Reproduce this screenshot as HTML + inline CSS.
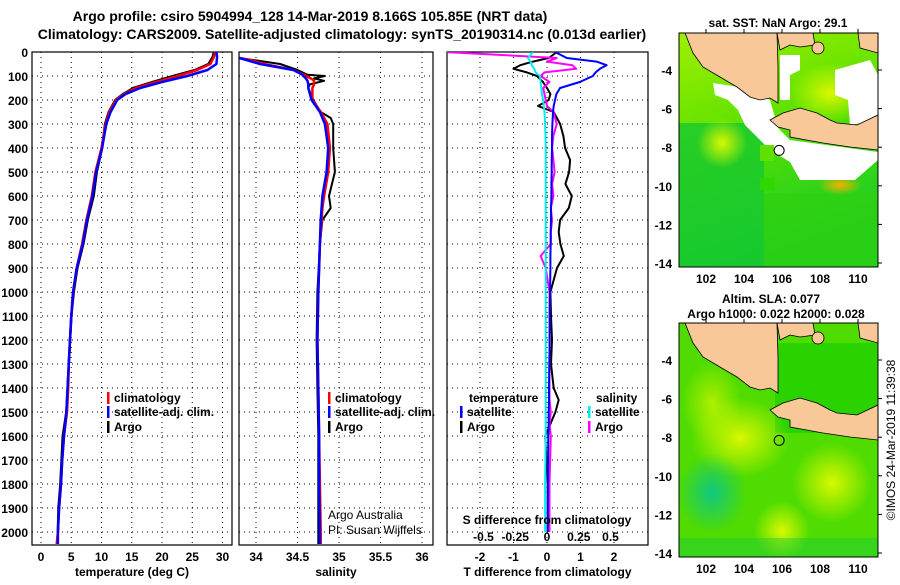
<!DOCTYPE html>
<html><head><meta charset="utf-8"><style>
body{margin:0;background:#fff}
svg text{font-family:"Liberation Sans",sans-serif}
</style></head><body>
<svg id="c" width="900" height="580" viewBox="0 0 900 580" xmlns="http://www.w3.org/2000/svg">
<defs>
<linearGradient id="sstg" x1="0" y1="0" x2="0.3" y2="1"><stop offset="0" stop-color="#a0f000"/><stop offset="0.5" stop-color="#58e000"/><stop offset="1" stop-color="#18cc28"/></linearGradient>
<radialGradient id="yb"><stop offset="0" stop-color="#d8f800"/><stop offset="1" stop-color="#d8f800" stop-opacity="0"/></radialGradient>
<radialGradient id="tb"><stop offset="0" stop-color="#10c880"/><stop offset="1" stop-color="#10c880" stop-opacity="0"/></radialGradient>
<radialGradient id="ob"><stop offset="0" stop-color="#f8b000"/><stop offset="1" stop-color="#f8b000" stop-opacity="0"/></radialGradient>
<clipPath id="m1"><rect x="679" y="33" width="199" height="234"/></clipPath>
<clipPath id="m2"><rect x="679" y="323" width="199" height="234"/></clipPath>
<clipPath id="p3"><rect x="447" y="52" width="201" height="493"/></clipPath>
</defs>
<text x="310" y="21" text-anchor="middle" font-size="14" font-weight="bold">Argo profile: csiro 5904994_128 14-Mar-2019 8.166S 105.85E (NRT data)</text>
<text x="342" y="39" text-anchor="middle" font-size="14" font-weight="bold">Climatology: CARS2009. Satellite-adjusted climatology: synTS_20190314.nc (0.013d earlier)</text>
<g id="g"></g>
</svg>
<script>
const depthTicks=[0,100,200,300,400,500,600,700,800,900,1000,1100,1200,1300,1400,1500,1600,1700,1800,1900,2000];
const tempTicks=[0,5,10,15,20,25,30];
const salTicks=[34,34.5,35,35.5,36];
const tdiffTicks=[-2,-1,0,1,2];
const sdiffTicks=[-0.5,-0.25,0,0.25,0.5];
const sdiffTickLabels=["-0.5","-0.25","0","0.25","0.5"];
const tDepth=[0,20,50,75,100,125,150,175,200,250,300,400,500,600,700,800,900,1000,1100,1200,1300,1400,1500,1600,1700,1800,1900,2000,2050];
const tArgo=[28.6,28.4,27.7,25.5,21.9,18.5,15.3,13.6,12.3,11.2,10.6,10.1,9.2,8.7,7.7,7.0,6.0,5.4,5.0,4.8,4.6,4.4,4.2,3.6,3.4,3.2,2.9,2.8,2.7];
const tClim=[28.8,28.6,28.0,25.8,22.6,19.0,15.7,13.8,12.4,11.3,10.7,10.0,9.0,8.4,7.5,6.8,5.9,5.3,5.0,4.8,4.6,4.5,4.3,3.8,3.5,3.3,3.0,2.8,2.6];
const tSat=[29.0,29.1,29.0,27.5,24.2,20.0,16.4,14.0,12.6,11.5,10.8,10.1,9.1,8.5,7.6,6.9,5.9,5.3,5.0,4.8,4.6,4.4,4.2,3.8,3.5,3.3,3.0,2.8,2.8];
const sDepth=[25,35,50,75,95,100,110,120,135,150,200,250,275,300,400,500,600,650,700,800,1000,1200,1400,1600,1800,2000,2050];
const sArgo=[33.8,34.0,34.29,34.5,34.62,34.83,34.7,34.82,34.65,34.63,34.69,34.78,34.9,34.93,34.93,34.95,34.88,34.9,34.8,34.77,34.74,34.73,34.74,34.75,34.75,34.75,34.75];
const sClim=[33.8,33.95,34.1,34.45,34.58,34.6,34.66,34.7,34.7,34.68,34.68,34.78,34.82,34.86,34.89,34.87,34.82,34.8,34.79,34.77,34.75,34.74,34.75,34.76,34.77,34.78,34.78];
const sSat=[33.8,33.9,34.05,34.45,34.56,34.57,34.6,34.62,34.63,34.63,34.67,34.77,34.8,34.83,34.87,34.85,34.8,34.79,34.78,34.77,34.75,34.74,34.75,34.76,34.76,34.77,34.77];
const dDepth=[0,25,40,55,70,85,100,125,150,175,200,225,250,300,350,400,450,500,550,600,650,700,750,800,850,900,1000,1100,1200,1300,1400,1450,1500,1550,1600,1800,2000];
const dTSat=[0.24,0.59,1.48,1.78,1.58,1.45,1.37,0.98,0.39,0.28,0.24,0.2,0.18,0.16,0.15,0.15,0.14,0.14,0.13,0.13,0.12,0.12,0.11,0.11,0.1,0.1,0.09,0.08,0.08,0.07,0.06,0.06,0.05,0.05,0.04,0.03,0.02];
const dTArgo=[0.3,0.05,-0.42,-0.8,-1.0,-0.6,-0.3,-0.12,0,0.1,0.05,-0.27,0.2,0.39,0.49,0.54,0.69,0.66,0.55,0.74,0.65,0.39,0.35,0.4,0.5,0.3,0.1,0.12,0.15,0.12,0.2,0.35,0.25,0.1,-0.05,0.02,0.02];
const dSSat=[-0.11,-0.15,-0.13,-0.12,-0.1,-0.09,-0.055,-0.05,-0.045,-0.04,-0.03,-0.025,-0.02,-0.015,-0.012,-0.01,-0.01,-0.01,-0.01,-0.01,-0.01,-0.01,-0.01,-0.01,-0.01,-0.01,-0.01,-0.01,-0.01,-0.01,-0.01,-0.01,-0.01,-0.01,-0.01,-0.015,-0.015];
const dSArgo=[-0.8,0.076,0.0,0.2,0.23,-0.02,-0.05,0.02,-0.03,-0.02,-0.01,0,0.05,0.076,0.05,0.04,0.05,0.06,0.04,0.05,0.03,0.04,0.03,0.03,-0.05,-0.01,0.02,0.02,0.02,0.02,0.02,0.02,0.03,0.02,0.03,0.02,0.02];
const latTicks=[-4,-6,-8,-10,-12,-14];
const lonTicks=[102,104,106,108,110];
const argoLon=105.85, argoLat=-8.166;

const NS='http://www.w3.org/2000/svg';
const G=document.getElementById('g');
function mk(t,a,p){const e=document.createElementNS(NS,t);for(const k in a)e.setAttribute(k,a[k]);(p||G).appendChild(e);return e;}
const yD=d=>52+d*0.24;
const xT=v=>41+v*6.05;
const xS=v=>256+(v-34)*83;
const xTD=v=>547+v*33.5;
const xSD=v=>547+v*127;
const lonX=l=>706+(l-102)*19;
const latY=(l,off)=>off+70+(-4-l)*19.3;

function panel(x0,x1,ticks,fx,labels,title,nm){
  const f=mk('rect',{x:x0,y:52,width:x1-x0,height:493,fill:'none',stroke:'#000','stroke-width':1.2});
  
  
  depthTicks.forEach(d=>{if(d>0){const l=mk('line',{x1:x0,x2:x1,y1:yD(d),y2:yD(d),stroke:'#000','stroke-dasharray':'1,4'});
    
    }});
  ticks.forEach((t,i)=>{const x=fx(t);
    const l=mk('line',{x1:x,x2:x,y1:52,y2:545,stroke:'#000','stroke-dasharray':'1,4'});
    
    
    const tx=mk('text',{x:x,y:561,'text-anchor':'middle','font-size':12,'font-weight':'bold'});tx.textContent=labels?labels[i]:t;
    
    });
  const tt=mk('text',{x:(x0+x1)/2,y:576,'text-anchor':'middle','font-size':12,'font-weight':'bold'});tt.textContent=title;
  
  
}
panel(32,232,tempTicks,xT,null,'temperature (deg C)','temp-panel');
panel(239,433,salTicks,xS,null,'salinity','sal-panel');
panel(447,648,tdiffTicks,xTD,null,'T difference from climatology','diff-panel');
depthTicks.forEach(d=>{const t=mk('text',{x:28,y:yD(d)+5,'text-anchor':'end','font-size':12,'font-weight':'bold'});t.textContent=d;
  
  });

function line(ds,vs,fx,col,w,nm,clip){
  const pts=ds.map((d,i)=>fx(vs[i]).toFixed(1)+','+yD(d).toFixed(1)).join(' ');
  const p=mk('polyline',{points:pts,fill:'none',stroke:col,'stroke-width':w,'stroke-linejoin':'round'});
  if(clip)p.setAttribute('clip-path','url(#p3)');
  
  
}
line(tDepth,tArgo,xT,'#000',2.5,'temp-argo-line');
line(tDepth,tClim,xT,'#f00',2.5,'temp-climatology-line');
line(tDepth,tSat,xT,'#00f',2.5,'temp-satellite-line');
line(sDepth,sArgo,xS,'#000',2,'sal-argo-line');
line(sDepth,sClim,xS,'#f00',2.5,'sal-climatology-line');
line(sDepth,sSat,xS,'#00f',2.5,'sal-satellite-line');
line(dDepth,dTArgo,xTD,'#000',2,'tdiff-argo-line',1);
line(dDepth,dSArgo,xSD,'#f0f',2,'sdiff-argo-line',1);
line(dDepth,dTSat,xTD,'#00f',2,'tdiff-satellite-line',1);
line(dDepth,dSSat,xSD,'#0ee',2,'sdiff-satellite-line',1);

function leg(x,y,col,txt,nm,bar){
  if(bar){const r=mk('rect',{x:x,y:y-10,width:2.5,height:12,fill:col});
    
    }
  const t=mk('text',{x:x+(bar?7:0),y:y,'font-size':12,'font-weight':'bold'});t.textContent=txt;
  
  
}
leg(107,402,'#f00','climatology','legend-climatology',1);
leg(107,416,'#00f','satellite-adj. clim.','legend-satellite-adj',1);
leg(107,431,'#000','Argo','legend-argo',1);
leg(328,402,'#f00','climatology','sal-legend-climatology',1);
leg(328,416,'#00f','satellite-adj. clim.','sal-legend-satellite-adj',1);
leg(328,431,'#000','Argo','sal-legend-argo',1);
leg(469,402,'#000','temperature','legend-temperature-heading',0);
leg(460,416,'#00f','satellite','legend-t-satellite',1);
leg(460,431,'#000','Argo','legend-t-argo',1);
leg(596,402,'#000','salinity','legend-salinity-heading',0);
leg(588,416,'#0ee','satellite','legend-s-satellite',1);
leg(588,431,'#f0f','Argo','legend-s-argo',1);
const t1=mk('text',{x:328,y:519,'font-size':12});t1.textContent='Argo Australia';


const t2=mk('text',{x:328,y:534,'font-size':12});t2.textContent='PI: Susan Wijffels';


const t3=mk('text',{x:547,y:524,'text-anchor':'middle','font-size':12,'font-weight':'bold'});t3.textContent='S difference from climatology';


sdiffTicks.forEach((v,i)=>{const t=mk('text',{x:xSD(v),y:541,'text-anchor':'middle','font-size':12,'font-weight':'bold'});t.textContent=sdiffTickLabels[i];
  
  });

function map(off,clip,nm,sst){
  const g=mk('g',{'clip-path':'url(#'+clip+')'});
  
  
  const y0=33+off;
  if(sst){
    mk('rect',{x:679,y:y0,width:199,height:234,fill:'url(#sstg)'},g);
    mk('rect',{x:679,y:y0+90,width:85,height:144,fill:'#18c830',opacity:0.8},g);
    mk('rect',{x:764,y:y0+160,width:114,height:74,fill:'#30d010',opacity:0.7},g);
    mk('ellipse',{cx:840,cy:y0+152,rx:22,ry:10,fill:'url(#ob)'},g);
    mk('ellipse',{cx:722,cy:y0+110,rx:25,ry:25,fill:'url(#yb)'},g);
    mk('ellipse',{cx:830,cy:y0+60,rx:40,ry:30,fill:'url(#yb)'},g);
    mk('polygon',{points:[[713,83],[745,88],[770,100],[778,128],[790,140],[878,152],[878,160],[855,180],[800,180],[790,162],[770,150],[760,140],[745,125],[738,110],[728,100],[715,95]].map(p=>p[0]+','+(p[1]+off)).join(' '),fill:'#fff'},g);
    mk('polygon',{points:[[780,55],[800,55],[800,70],[790,75],[790,100],[780,100]].map(p=>p[0]+','+(p[1]+off)).join(' '),fill:'#fff'},g);
    mk('polygon',{points:[[835,70],[870,60],[878,75],[878,120],[850,125],[848,100],[835,95]].map(p=>p[0]+','+(p[1]+off)).join(' '),fill:'#fff'},g);
    mk('rect',{x:760,y:y0+112,width:14,height:16,fill:'#60e000'},g);
    mk('rect',{x:760,y:y0+145,width:15,height:12,fill:'#30d800'},g);
  } else {
    mk('rect',{x:679,y:y0,width:199,height:234,fill:'#50dc00'},g);
    mk('rect',{x:775,y:y0+20,width:103,height:90,fill:'#20d000',opacity:0.8},g);
    mk('ellipse',{cx:740,cy:y0+115,rx:50,ry:40,fill:'url(#yb)'},g);
    mk('ellipse',{cx:712,cy:y0+80,rx:30,ry:40,fill:'url(#yb)',opacity:0.7},g);
    mk('ellipse',{cx:832,cy:y0+160,rx:40,ry:40,fill:'url(#yb)'},g);
    mk('ellipse',{cx:782,cy:y0+208,rx:28,ry:30,fill:'url(#yb)'},g);
    mk('ellipse',{cx:712,cy:y0+170,rx:35,ry:40,fill:'url(#tb)'},g);
    mk('rect',{x:679,y:y0+215,width:199,height:19,fill:'#10c840',opacity:0.4},g);
  }
  const land=[
    [[679,33],[685,33],[693,53],[703,67],[720,77],[737,87],[750,97],[760,100],[770,98],[778,103],[778,67],[777,33]],
    [[777,33],[813,33],[815,45],[800,47],[790,45],[780,50]],
    [[858,33],[878,33],[878,53],[860,48]],
    [[770,120],[783,113],[800,108],[817,113],[830,120],[837,123],[857,125],[878,115],[878,150],[850,147],[823,143],[790,137],[790,130],[778,127]]
  ];
  land.forEach(pl=>{mk('polygon',{points:pl.map(q=>q[0]+','+(q[1]+off)).join(' '),fill:'#f8c898',stroke:'#000','stroke-width':0.8},g);});
  mk('circle',{cx:818,cy:48+off,r:6,fill:'#f8c898',stroke:'#000','stroke-width':0.8},g);
  const c=mk('circle',{cx:lonX(argoLon),cy:latY(argoLat,off),r:5,fill:'none',stroke:'#000','stroke-width':1});
  
  
  const fr=mk('rect',{x:679,y:y0,width:199,height:234,fill:'none',stroke:'#000','stroke-width':1});
  
  
  latTicks.forEach(l=>{const y=latY(l,off);
    mk('line',{x1:878,x2:882,y1:y,y2:y,stroke:'#000'});
    const t=mk('text',{x:672,y:y+5,'text-anchor':'end','font-size':12,'font-weight':'bold'});t.textContent=l;
    
    });
  lonTicks.forEach(l=>{const x=lonX(l);
    mk('line',{x1:x,x2:x,y1:y0-4,y2:y0,stroke:'#000'});
    const t=mk('text',{x:x,y:y0+250,'text-anchor':'middle','font-size':12,'font-weight':'bold'});t.textContent=l;
    
    });
}
map(0,'m1','sst-map',true);
map(290,'m2','sla-map',false);
function tx(x,y,s,nm,a){const t=mk('text',Object.assign({x:x,y:y,'text-anchor':'middle','font-size':12,'font-weight':'bold'},a||{}));t.textContent=s;
  
  return t;}
tx(778,27,'sat. SST: NaN Argo: 29.1','sst-map-title');
tx(771,303,'Altim. SLA: 0.077','sla-map-title');
tx(776,318,'Argo h1000: 0.022 h2000: 0.028','sla-map-subtitle');
tx(0,0,'©IMOS 24-Mar-2019 11:39:38','timestamp',{transform:'translate(895,440) rotate(-90)','font-weight':'normal'});
</script>
</body></html>
